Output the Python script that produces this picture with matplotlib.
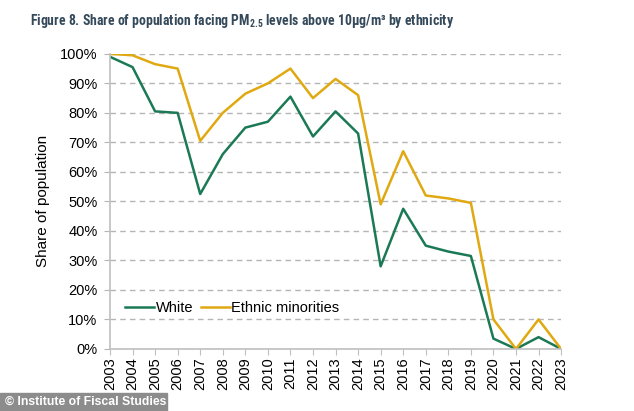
import matplotlib
matplotlib.use('Agg')
import matplotlib.pyplot as plt
from matplotlib.patches import Rectangle
from matplotlib import font_manager

plt.rcParams['font.family'] = ['Liberation Sans', 'DejaVu Sans']

names = {f.name for f in font_manager.fontManager.ttflist}
title_font = 'Roboto'
for cand in ['Roboto Condensed', 'Liberation Sans Narrow', 'Arial Narrow', 'Open Sans Condensed']:
    if cand in names:
        title_font = cand
        break
plt.rcParams['mathtext.fontset'] = 'custom'
plt.rcParams['mathtext.rm'] = title_font + ':bold'
plt.rcParams['mathtext.it'] = title_font + ':bold'
plt.rcParams['mathtext.bf'] = title_font + ':bold'

years = list(range(2003, 2024))
white = [99, 95.5, 80.5, 80, 52.5, 66, 75, 77, 85.5, 72, 80.5, 73,
         28, 47.5, 35, 33, 31.5, 3.5, 0, 4, 0]
minorities = [100, 99.5, 96.5, 95, 70.5, 80, 86.5, 90, 95, 85, 91.5, 86,
              49, 67, 52, 51, 49.5, 10, 0, 10, 0]

green = '#1b7a55'
gold = '#e0a912'
title_col = '#34495a'

fig = plt.figure(figsize=(6.34, 4.11), dpi=100)
ax = fig.add_axes([0.1735, 0.151, 0.7115, 0.718])

ax.plot(years, white, color=green, lw=1.8, label='White')
ax.plot(years, minorities, color=gold, lw=1.8, label='Ethnic minorities')

ax.set_xlim(2003, 2023)
ax.set_ylim(0, 100)
ax.set_yticks(range(0, 101, 10))
ax.set_yticklabels([f'{v}%' for v in range(0, 101, 10)], fontsize=10.5)
ax.set_xticks(years)
ax.set_xticklabels([str(y) for y in years], rotation=90, fontsize=10.5)
ax.yaxis.grid(True, linestyle=(0, (4, 3)), color='#b5b5b5', lw=1)
ax.set_axisbelow(True)
for s in ['top', 'right']:
    ax.spines[s].set_visible(False)
for s in ['left', 'bottom']:
    ax.spines[s].set_color('#bfbfbf')
    ax.spines[s].set_linewidth(1.2)
ax.tick_params(axis='y', length=4, color='#b5b5b5', pad=5)
ax.tick_params(axis='x', length=4, color='#bfbfbf', pad=2)
ax.set_ylabel('Share of population', fontsize=11, labelpad=7)

ax.legend(loc='center left', bbox_to_anchor=(0.024, 0.138), ncol=2, frameon=False,
          fontsize=10.5, handlelength=2.0, handletextpad=0.1, columnspacing=0.5,
          borderaxespad=0.0, borderpad=0.3)

title = fig.text(30 / 634, 1 - 21 / 411,
                 'Figure 8. Share of population facing PM$_{2.5}$ levels above 10µg/m³ by ethnicity',
                 fontsize=11, fontweight='bold', color=title_col, va='center', family=title_font)
# shrink the title to the width it has in the original (about 425 px)
renderer = fig.canvas.get_renderer()
w = title.get_window_extent(renderer).width
if w > 430:
    title.set_fontsize(11 * 425 / w)

fig.patches.append(Rectangle((0, 0), 167 / 634, 18 / 411, transform=fig.transFigure,
                             color='#8c8c8c', zorder=5))
fig.text(5 / 634, 9 / 411, '© Institute of Fiscal Studies', fontsize=8.8, fontweight='bold',
         color='white', va='center', zorder=6)

fig.savefig('out.png', dpi=100)
